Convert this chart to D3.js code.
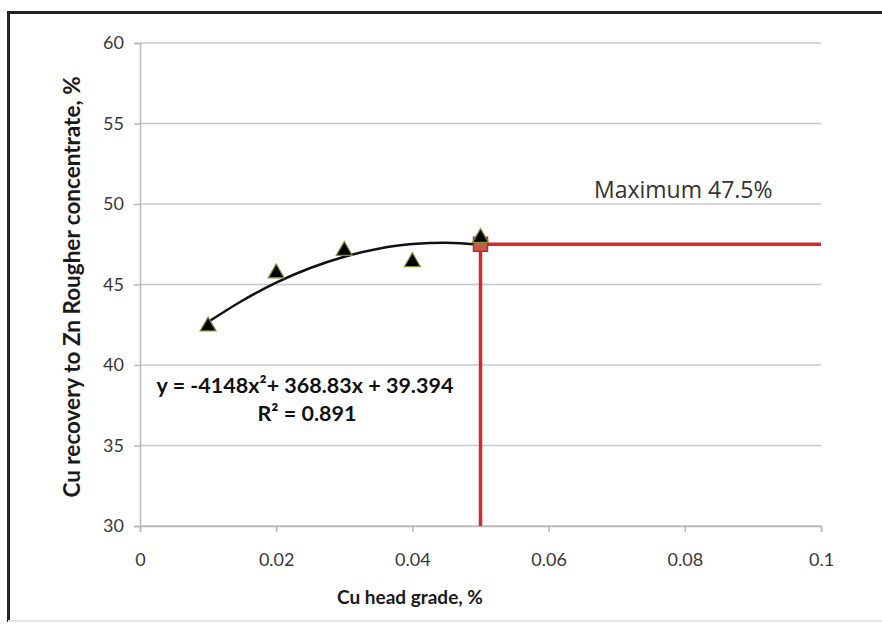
<!doctype html>
<html>
<head>
<meta charset="utf-8">
<title>Cu recovery vs Cu head grade</title>
<script src="https://d3js.org/d3.v7.min.js"></script>
<style>
  body { margin: 0; background: #fff; }
  .tick text { font-family: Lato, "Open Sans", sans-serif; font-size: 18px; fill: #383838; }
  .grid line { stroke: #c8c8c8; stroke-width: 1.5px; }
  .axis-title { font-family: Lato, "Open Sans", sans-serif; font-weight: bold; fill: #1a1a1a; }
  .eq { font-family: Lato, "Open Sans", sans-serif; font-weight: bold; font-size: 21.5px; fill: #111; }
  .maxlabel { font-family: "Open Sans", "DejaVu Sans", sans-serif; font-size: 23px; fill: #333; }
</style>
</head>
<body>
<div id="chart"></div>
<script>
// data
var headGrade = [0.01, 0.02, 0.03, 0.04, 0.05];
var recovery = [42.4, 45.7, 47.1, 46.4, 47.9];
// polynomial trendline as printed on the chart (a, b, c of ax^2+bx+c)
var trendCoef = [-4148, 368.83, 39.394];
var trendX = [0.01, 0.015, 0.02, 0.025, 0.03, 0.035, 0.04, 0.045, 0.05];
var maxGrade = 0.05, maxRecovery = 47.5;
var xTicks = [0, 0.02, 0.04, 0.06, 0.08, 0.1];
var yTicks = [30, 35, 40, 45, 50, 55, 60];

var W = 882, H = 629;
var svg = d3.select("#chart").append("svg")
    .attr("width", W)
    .attr("height", H);

// outer frame
svg.append("path")
    .attr("d", "M8.5,622 L8.5,12.5 L882,12.5")
    .attr("fill", "none")
    .attr("stroke", "#222")
    .attr("stroke-width", 3);
svg.append("line")
    .attr("x1", 8).attr("x2", 882).attr("y1", 621).attr("y2", 621)
    .attr("stroke", "#e4e4e4").attr("stroke-width", 2);

var x = d3.scaleLinear().domain([0, 0.1]).range([140, 821]);
var y = d3.scaleLinear().domain([30, 60]).range([526, 43]);

// gridlines
svg.append("g")
    .attr("class", "grid")
    .selectAll("line")
    .data(yTicks)
  .enter().append("line")
    .attr("x1", x(0)).attr("x2", x(0.1))
    .attr("y1", function(d) { return y(d); })
    .attr("y2", function(d) { return y(d); });

// axes
var yAxis = svg.append("g")
    .attr("transform", "translate(" + x(0) + ",0)")
    .call(d3.axisLeft(y).tickValues(yTicks).tickSize(6).tickPadding(10).tickFormat(d3.format("d")));
var xAxis = svg.append("g")
    .attr("transform", "translate(0," + y(30) + ")")
    .call(d3.axisBottom(x).tickValues(xTicks).tickSize(6).tickPadding(21)
      .tickFormat(function(d) { return d === 0 ? "0" : String(+d.toFixed(2)); }));
[yAxis, xAxis].forEach(function(a) {
  a.selectAll(".domain").attr("stroke", "#b8b8b8").attr("stroke-width", 1.5);
  a.selectAll(".tick line").attr("stroke", "#b8b8b8").attr("stroke-width", 1.5);
});

// trendline
var trend = d3.line()
    .x(function(d) { return x(d); })
    .y(function(d) { return y(trendCoef[0] * d * d + trendCoef[1] * d + trendCoef[2]); })
    .curve(d3.curveMonotoneX);
svg.append("path")
    .datum(trendX)
    .attr("d", trend)
    .attr("fill", "none")
    .attr("stroke", "#111")
    .attr("stroke-width", 2.5);

// red maximum lines
var red = "#d42a2a";
svg.append("line")
    .attr("x1", x(maxGrade)).attr("x2", x(maxGrade))
    .attr("y1", y(30)).attr("y2", y(maxRecovery))
    .attr("stroke", red).attr("stroke-width", 3.5);
svg.append("line")
    .attr("x1", x(maxGrade)).attr("x2", x(0.1))
    .attr("y1", y(maxRecovery)).attr("y2", y(maxRecovery))
    .attr("stroke", red).attr("stroke-width", 3.5);
svg.append("rect")
    .attr("x", x(maxGrade) - 7).attr("y", y(maxRecovery) - 7)
    .attr("width", 14).attr("height", 14)
    .attr("fill", "#c85a4a").attr("stroke", "#b03030").attr("stroke-width", 1.5);

// data points
var tri = d3.symbol().type(d3.symbolTriangle).size(110);
svg.append("g")
    .selectAll("path")
    .data(headGrade)
  .enter().append("path")
    .attr("d", tri)
    .attr("transform", function(d, i) { return "translate(" + x(d) + "," + y(recovery[i]) + ")"; })
    .attr("fill", "#000")
    .attr("stroke", "#8a8a3a")
    .attr("stroke-width", 1.2);

// equation
svg.append("text").attr("class", "eq")
    .attr("x", 305).attr("y", 393).attr("text-anchor", "middle")
    .text("y = " + trendCoef[0] + "x\u00b2+ " + trendCoef[1] + "x + " + trendCoef[2]);
svg.append("text").attr("class", "eq")
    .attr("x", 307).attr("y", 421).attr("text-anchor", "middle")
    .text("R\u00b2 = 0.891");

svg.append("text").attr("class", "maxlabel")
    .attr("x", 594).attr("y", 198)
    .text("Maximum " + maxRecovery + "%");

// axis titles
svg.append("text").attr("class", "axis-title")
    .attr("x", 410).attr("y", 604).attr("text-anchor", "middle")
    .style("font-size", "19px")
    .text("Cu head grade, %");
svg.append("text").attr("class", "axis-title")
    .attr("transform", "translate(80,287) rotate(-90)")
    .attr("text-anchor", "middle")
    .style("font-size", "22.5px")
    .text("Cu recovery to Zn Rougher concentrate, %");
</script>
</body>
</html>
